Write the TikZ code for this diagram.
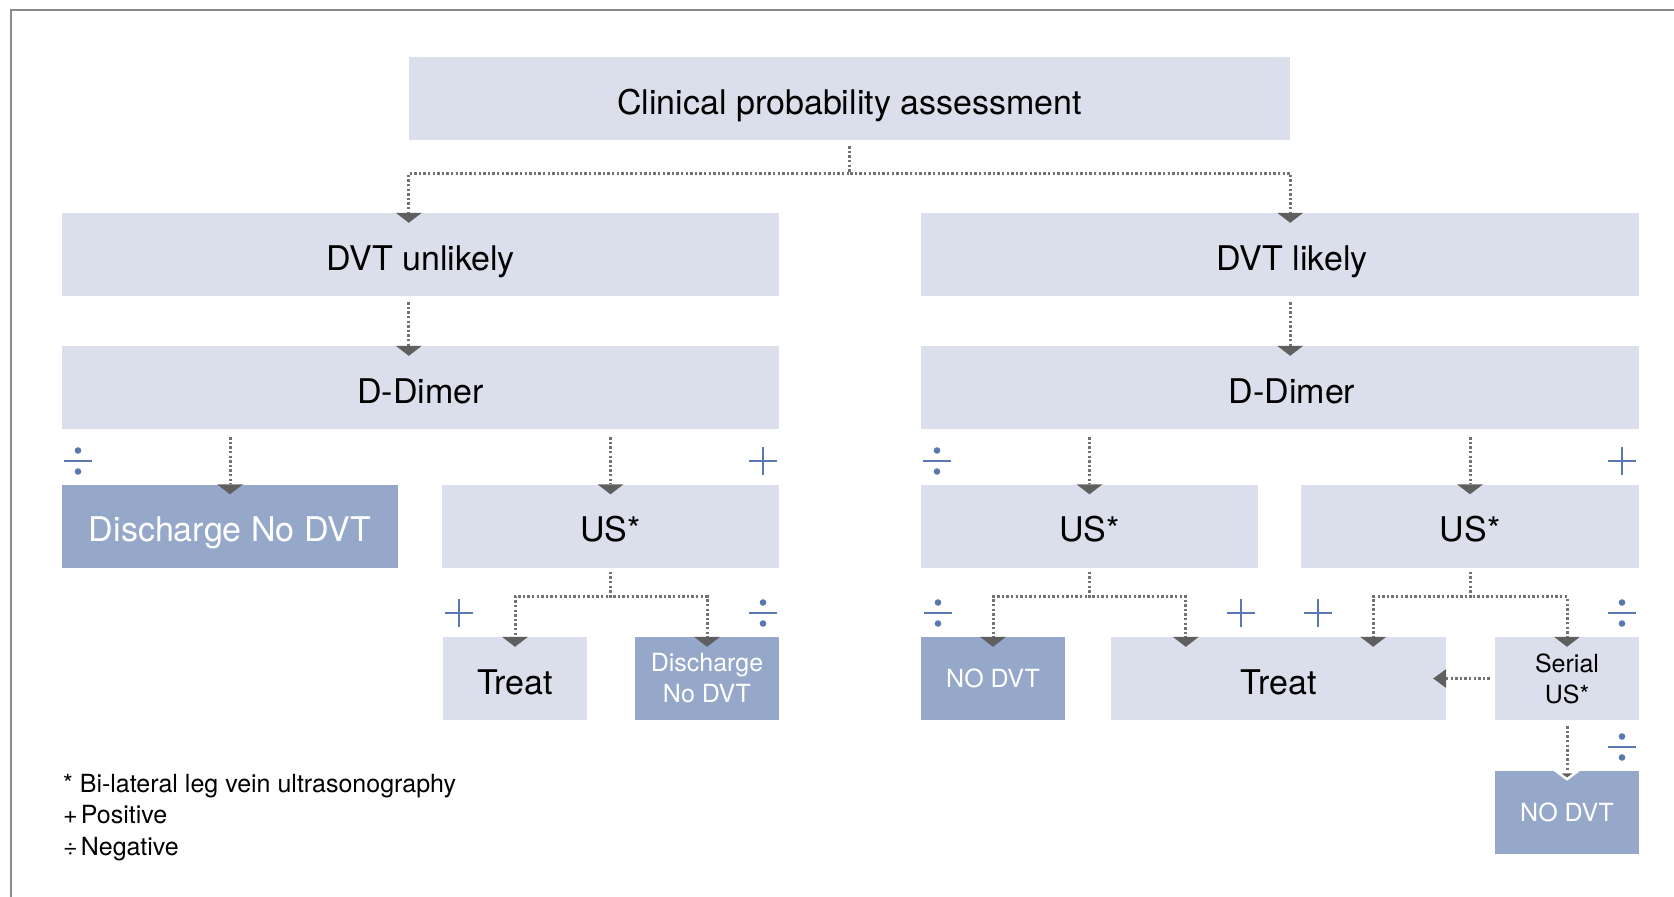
\documentclass[tikz,border=0pt]{standalone}
\usepackage{fontspec}
\setmainfont{TeX Gyre Heros}
\usetikzlibrary{arrows.meta}
\definecolor{boxlight}{HTML}{DBDFEB}
\definecolor{boxdark}{HTML}{95A8CA}
\definecolor{signblue}{HTML}{5B78AE}
\definecolor{linegray}{HTML}{727272}
\definecolor{tipgray}{HTML}{5F5F5F}
\definecolor{framegray}{HTML}{8A8A8A}
\tikzset{
  basebox/.style={fill=boxlight, inner sep=0pt, minimum height=83pt, align=center},
  box/.style={basebox, font=\fontsize{34}{40}\selectfont, text height=31pt, text depth=0pt},
  darkbox/.style={box, fill=boxdark, text=white},
  smallbox/.style={basebox, minimum width=144pt, font=\fontsize{25}{31}\selectfont},
  link/.style={linegray, line width=3pt, dash pattern=on 2.4pt off 2.2pt,
    shorten <=6pt, shorten >=-10pt,
    -{Triangle[width=26pt,length=10pt,line width=0pt,color=tipgray]}},
  plussign/.pic={\draw[signblue, line width=2.6pt] (-14,0) -- (14,0) (0,-14) -- (0,14);},
  divsign/.pic={\draw[signblue, line width=2.6pt] (-14,0) -- (14,0);
    \fill[signblue] (0,-10.5) circle (3.3) (0,10.5) circle (3.3);},
  legend/.style={anchor=base west, inner sep=0pt, font=\fontsize{25}{30}\selectfont}
}
\begin{document}
\begin{tikzpicture}[x=1pt, y=-1pt]
  \useasboundingbox (0,0) rectangle (1674,897);
  \draw[framegray, line width=2pt] (11,897) -- (11,10) -- (1674,10);

  % boxes
  \node[box, minimum width=881pt] (top) at (849.5,98.5) {Clinical probability assessment};
  \node[box, minimum width=717pt] (unl) at (420.5,254.5) {DVT unlikely};
  \node[box, minimum width=718pt] (lik) at (1280,254.5) {\hspace*{24pt}DVT likely};
  \node[box, minimum width=717pt] (dd1) at (420.5,387.5) {D-Dimer};
  \node[box, minimum width=718pt] (dd2) at (1280,387.5) {\hspace*{24pt}D-Dimer};
  \node[darkbox, minimum width=336pt] (dis1) at (230,526) {Discharge No DVT};
  \node[box, minimum width=337pt] (us1) at (610.5,526) {US*};
  \node[box, minimum width=337pt] (us2) at (1089.5,526) {US*};
  \node[box, minimum width=338pt] (us3) at (1470,526) {US*};
  \node[box, minimum width=144pt] (treat1) at (515,678.5) {Treat};
  \node[smallbox, fill=boxdark, text=white] (dis2) at (707,678.5) {Discharge\\No DVT};
  \node[smallbox, fill=boxdark, text=white] (nodvt1) at (993,678.5) {NO DVT};
  \node[box, minimum width=335pt] (treat2) at (1278.5,678.5) {Treat};
  \node[smallbox] (serial) at (1567,678.5) {Serial\\US*};
  \node[smallbox, fill=boxdark, text=white] (nodvt2) at (1567,812.5) {NO DVT};

  % connectors
  \draw[link] (top.south) -- ++(0,33) -| (top.south west |- unl.north);
  \draw[link] (top.south) -- ++(0,33) -| (top.south east |- lik.north);
  \draw[link] (top.south west |- unl.south) -- (top.south west |- dd1.north);
  \draw[link] (top.south east |- lik.south) -- (top.south east |- dd2.north);
  \draw[link, shorten <=8pt] (dis1.north |- dd1.south) -- (dis1.north);
  \draw[link, shorten <=8pt] (us1.north |- dd1.south) -- (us1.north);
  \draw[link, shorten <=8pt] (us2.north |- dd2.south) -- (us2.north);
  \draw[link, shorten <=8pt] (us3.north |- dd2.south) -- (us3.north);
  \draw[link, shorten <=4pt] (us1.south) -- ++(0,29) -| (treat1.north);
  \draw[link, shorten <=4pt] (us1.south) -- ++(0,29) -| (dis2.north);
  \draw[link, shorten <=4pt] (us2.south) -- ++(0,29) -| (nodvt1.north);
  \draw[link, shorten <=4pt] (us2.south) -- ++(0,29) -| ([xshift=75pt]treat2.north west);
  \draw[link, shorten <=4pt] (us3.south) -- ++(0,29) -| ([xshift=-73pt]treat2.north east);
  \draw[link, shorten <=4pt] (us3.south) -- ++(0,29) -| (serial.north);
  \draw[link, shorten <=5pt, shorten >=-13pt,
    -{Triangle[width=19pt,length=13pt,line width=0pt,color=tipgray]}] (serial.west) -- (treat2.east);
  \draw[link, -{Triangle[width=26pt,length=10pt,line width=3pt,fill=tipgray,color=white]}]
    (serial.south) -- (nodvt2.north);

  % signs
  \pic at (78,461) {divsign};
  \pic at (763,461) {plussign};
  \pic at (937,461) {divsign};
  \pic at (1622,461) {plussign};
  \pic at (459,613) {plussign};
  \pic at (763,613) {divsign};
  \pic at (938,613) {divsign};
  \pic at (1241,613) {plussign};
  \pic at (1318,613) {plussign};
  \pic at (1622,613) {divsign};
  \pic at (1622,747) {divsign};

  % legend
  \node[legend] (leg1) at (63,792) {*\ Bi-lateral leg vein ultrasonography};
  \node[legend] (leg2) at (63,823) {+\kern3pt Positive};
  \node[legend] (leg3) at (63,855) {÷\kern3pt Negative};
\end{tikzpicture}
\end{document}
